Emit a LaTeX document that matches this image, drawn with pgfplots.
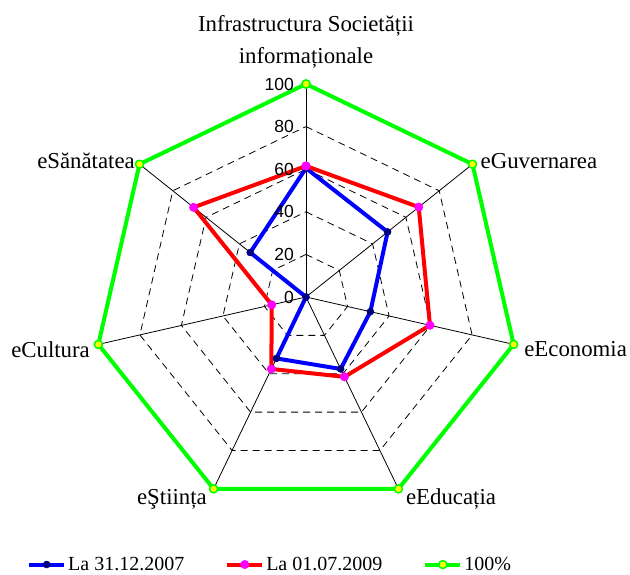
\documentclass[border=0pt]{standalone}
\usepackage{pgfplots}
\pgfplotsset{compat=1.18}
\usepackage{fontspec}
\setmainfont{Liberation Serif}
\newfontfamily\tickfont{Liberation Sans}
\definecolor{cblue}{RGB}{0,0,255}
\definecolor{cnavy}{RGB}{0,0,128}
\definecolor{cred}{RGB}{255,0,0}
\definecolor{cmag}{RGB}{255,0,255}
\definecolor{cgreen}{RGB}{0,255,0}
\definecolor{cyellow}{RGB}{255,255,0}
\tikzset{ticklab/.style={anchor=east, inner sep=0pt, xshift=-12pt, font=\tickfont\fontsize{17.5}{20}\selectfont},
  catlab/.style={inner sep=0pt, font=\fontsize{22.8}{27}\selectfont}}
\begin{document}
\begin{tikzpicture}
\begin{axis}[
  x=2.13pt, y=2.13pt,
  xmin=-100, xmax=100, ymin=-100, ymax=100,
  hide axis, clip=false,
  legend columns=3,
  legend style={draw=none, fill=none, inner sep=0pt,
    at={(axis cs:-131,-125.6)}, anchor=west,
    font=\fontsize{20}{24}\selectfont,
    /tikz/every even column/.append style={column sep=39pt}},
  legend image code/.code={\draw[mark repeat=2,mark phase=2,#1] plot coordinates {(0pt,0pt) (17.5pt,0pt) (35pt,0pt)};},
]
% grid heptagons
\addplot[forget plot, black, line width=0.8pt, dash pattern=on 7pt off 5pt, no marks, data cs=polar]
  coordinates {(90,20) (38.5714,20) (-12.8571,20) (-64.2857,20) (-115.7143,20) (-167.1429,20) (141.4286,20) (90,20)};
\addplot[forget plot, black, line width=0.8pt, dash pattern=on 7pt off 5pt, no marks, data cs=polar]
  coordinates {(90,40) (38.5714,40) (-12.8571,40) (-64.2857,40) (-115.7143,40) (-167.1429,40) (141.4286,40) (90,40)};
\addplot[forget plot, black, line width=0.8pt, dash pattern=on 7pt off 5pt, no marks, data cs=polar]
  coordinates {(90,60) (38.5714,60) (-12.8571,60) (-64.2857,60) (-115.7143,60) (-167.1429,60) (141.4286,60) (90,60)};
\addplot[forget plot, black, line width=0.8pt, dash pattern=on 7pt off 5pt, no marks, data cs=polar]
  coordinates {(90,80) (38.5714,80) (-12.8571,80) (-64.2857,80) (-115.7143,80) (-167.1429,80) (141.4286,80) (90,80)};
% spokes
\addplot[forget plot, black, line width=0.8pt, no marks, data cs=polar] coordinates {(90,0) (90,100)};
\addplot[forget plot, black, line width=0.8pt, no marks, data cs=polar] coordinates {(38.5714,0) (38.5714,100)};
\addplot[forget plot, black, line width=0.8pt, no marks, data cs=polar] coordinates {(-12.8571,0) (-12.8571,100)};
\addplot[forget plot, black, line width=0.8pt, no marks, data cs=polar] coordinates {(-64.2857,0) (-64.2857,100)};
\addplot[forget plot, black, line width=0.8pt, no marks, data cs=polar] coordinates {(-115.7143,0) (-115.7143,100)};
\addplot[forget plot, black, line width=0.8pt, no marks, data cs=polar] coordinates {(-167.1429,0) (-167.1429,100)};
\addplot[forget plot, black, line width=0.8pt, no marks, data cs=polar] coordinates {(141.4286,0) (141.4286,100)};
% data series
\addplot[cblue, line width=4pt, line join=round, data cs=polar, mark=*, mark size=3.5pt,
  mark options={fill=cnavy, draw=cnavy, line width=0.5pt}]
  coordinates {(90,60.5) (38.5714,49) (-12.8571,31) (-64.2857,37.5) (-115.7143,32) (-167.1429,0) (141.4286,33.5) (90,60.5)};
\addlegendentry{La 31.12.2007}
\addplot[cred, line width=4pt, line join=round, data cs=polar, mark=*, mark size=4.2pt,
  mark options={fill=cmag, draw=cmag, line width=0.5pt}]
  coordinates {(90,61.5) (38.5714,67.7) (-12.8571,59.7) (-64.2857,41.6) (-115.7143,37.5) (-167.1429,16.5) (141.4286,67.5) (90,61.5)};
\addlegendentry{La 01.07.2009}
\addplot[cgreen, line width=4pt, line join=round, data cs=polar, mark=*, mark size=4pt,
  mark options={fill=cyellow, draw=cgreen, line width=1.5pt}]
  coordinates {(90,100) (38.5714,100) (-12.8571,100) (-64.2857,100) (-115.7143,100) (-167.1429,100) (141.4286,100) (90,100)};
\addlegendentry{100\%}
\coordinate (O) at (axis cs:0,0);
% tick labels
\node[ticklab] at (axis cs:0,0) {0};
\node[ticklab] at (axis cs:0,20) {20};
\node[ticklab] at (axis cs:0,40) {40};
\node[ticklab] at (axis cs:0,60) {60};
\node[ticklab] at (axis cs:0,80) {80};
\node[ticklab] at (axis cs:0,100) {100};
% category labels
\node[catlab, anchor=base west, xshift=8pt, yshift=-4.3pt] at (axis cs:78.183,62.349) {eGuvernarea};
\node[catlab, anchor=base west, xshift=10.5pt, yshift=-12pt] at (axis cs:97.493,-22.252) {eEconomia};
\node[catlab, anchor=base west, xshift=7.5pt, yshift=-16pt] at (axis cs:43.388,-90.097) {eEducația};
\node[catlab, anchor=base east, xshift=-6.6pt, yshift=-16pt] at (axis cs:-43.388,-90.097) {eŞtiința};
\node[catlab, anchor=base east, xshift=-8.3pt, yshift=-12.7pt] at (axis cs:-97.493,-22.252) {eCultura};
\node[catlab, anchor=base east, xshift=-4.5pt, yshift=-4pt] at (axis cs:-78.183,62.349) {eSănătatea};
\end{axis}
% title
\node[catlab, anchor=base] at ([yshift=265.3pt]O) {Infrastructura Societății};
\node[catlab, anchor=base] at ([yshift=233.7pt]O) {informaționale};
\pgfresetboundingbox
\useasboundingbox ([xshift=-306pt,yshift=-277pt]O) rectangle ([xshift=324pt,yshift=297pt]O);
\end{tikzpicture}
\end{document}
